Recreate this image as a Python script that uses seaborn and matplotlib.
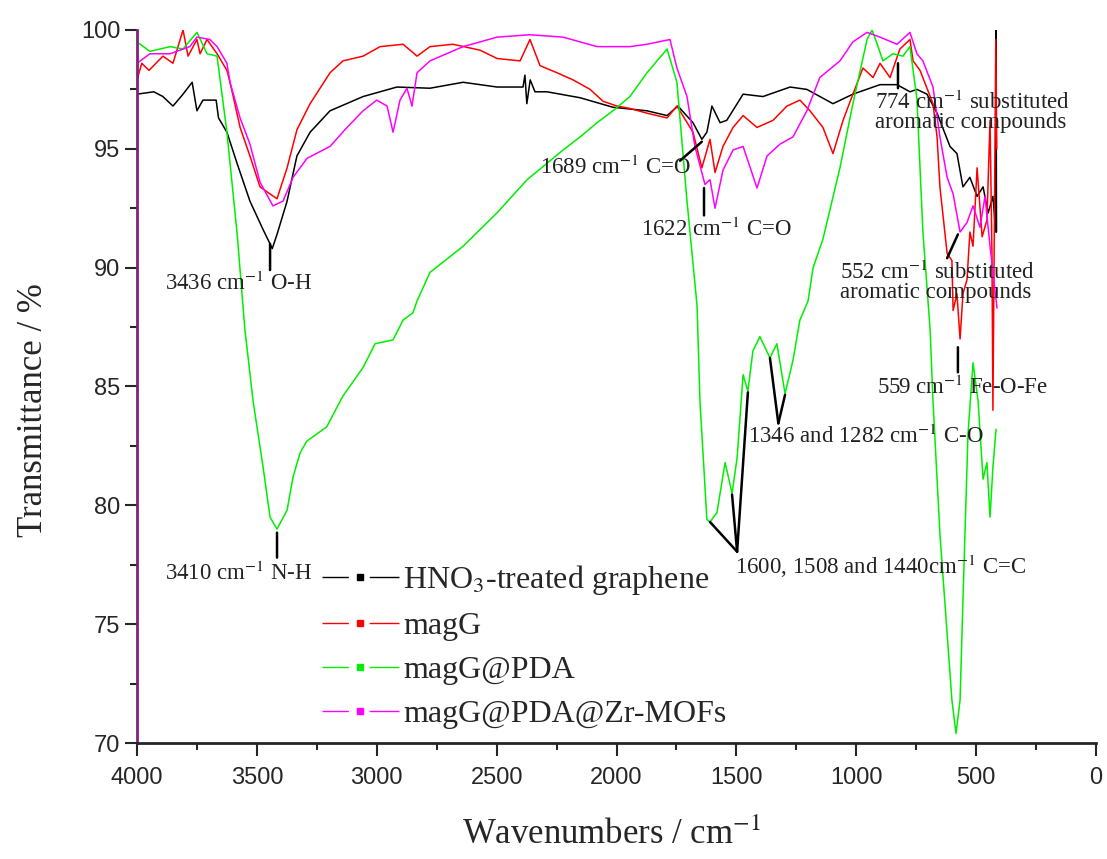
import numpy as np
import pandas as pd
import matplotlib
matplotlib.use("Agg")
import matplotlib.pyplot as plt
from matplotlib.lines import Line2D
from matplotlib.ticker import MultipleLocator
import seaborn as sns

# FTIR spectra (wavenumber in cm-1, transmittance in %)
hno3_x = [4000, 3930, 3892, 3850, 3808, 3770, 3750, 3725, 3670, 3660, 3625, 3583, 3529, 3474,
          3445, 3436, 3416, 3374, 3333, 3278, 3195, 3057, 2916, 2778, 2640, 2498, 2390, 2382,
          2374, 2360, 2340, 2290, 2152, 2015, 1873, 1789, 1744, 1681, 1644, 1623, 1602, 1568,
          1540, 1472, 1389, 1276, 1206, 1097, 1014, 901, 830, 776, 747, 705, 663, 609, 580,
          555, 526, 496, 471, 450, 430, 418, 417, 415]
hno3_y = [97.3, 97.4, 97.2, 96.8, 97.3, 97.8, 96.6, 97.05, 97.05, 96.3, 95.7, 94.4, 92.8, 91.6,
          91.0, 90.8, 91.4, 92.8, 94.7, 95.7, 96.6, 97.2, 97.6, 97.55, 97.8, 97.6, 97.6, 98.1,
          96.9, 97.9, 97.4, 97.4, 97.15, 96.75, 96.6, 96.4, 96.8, 96.1, 95.4, 95.7, 96.8, 96.1,
          96.2, 97.3, 97.2, 97.6, 97.5, 96.9, 97.3, 97.7, 97.7, 97.4, 97.5, 97.3, 96.5, 95.1, 94.8,
          93.4, 93.8, 93.0, 93.4, 92.3, 93.0, 91.5, 100.0, 91.5]

magg_x = [4000, 3980, 3950, 3892, 3850, 3808, 3787, 3750, 3737, 3708, 3666, 3625, 3612, 3570,
          3529, 3487, 3445, 3416, 3374, 3333, 3278, 3195, 3141, 3057, 2986, 2890, 2832, 2778,
          2682, 2569, 2498, 2402, 2361, 2319, 2248, 2181, 2110, 2056, 1998, 1944, 1873, 1789,
          1748, 1681, 1644, 1610, 1589, 1556, 1514, 1472, 1414, 1347, 1289, 1235, 1193, 1139,
          1097, 1055, 1014, 972, 930, 901, 859, 818, 776, 763, 734, 680, 663, 651, 621, 601,
          596, 580, 567, 555, 538, 526, 513, 496, 475, 455, 442, 434, 430, 418, 414]
magg_y = [97.9, 98.6, 98.3, 98.9, 98.6, 100.0, 98.9, 99.6, 99.0, 99.6, 99.0, 98.3, 97.8, 95.9,
          94.7, 93.4, 93.1, 92.9, 94.2, 95.8, 96.9, 98.2, 98.7, 98.9, 99.3, 99.4, 98.9, 99.3,
          99.4, 99.15, 98.8, 98.7, 99.6, 98.5, 98.2, 97.9, 97.5, 97.0, 96.8, 96.7, 96.5, 96.3,
          96.8, 95.7, 94.2, 95.4, 94.0, 95.1, 95.9, 96.4, 95.9, 96.2, 96.8, 97.05, 96.6, 95.9,
          94.8, 96.2, 97.3, 98.4, 98.0, 98.6, 98.0, 99.2, 99.6, 98.7, 98.3, 96.9, 95.5, 93.4,
          90.6, 90.3, 88.2, 88.9, 87.0, 88.9, 89.5, 91.5, 90.9, 94.2, 91.3, 92.0, 96.2, 90.6,
          84.0, 99.6, 95.0]

pda_x = [4000, 3946, 3862, 3808, 3750, 3708, 3666, 3625, 3583, 3550, 3516, 3474, 3445, 3416,
         3374, 3349, 3320, 3292, 3209, 3141, 3057, 3007, 2932, 2890, 2849, 2832, 2778, 2640,
         2499, 2373, 2223, 2152, 2081, 2015, 1944, 1873, 1789, 1748, 1706, 1664, 1652, 1623,
         1610, 1581, 1547, 1518, 1497, 1472, 1452, 1431, 1402, 1360, 1331, 1297, 1264, 1235,
         1201, 1180, 1139, 1068, 1014, 955, 934, 909, 889, 847, 805, 776, 747, 722, 692, 680,
         651, 621, 601, 584, 567, 555, 534, 513, 492, 471, 455, 442, 430, 417]
pda_y = [99.5, 99.1, 99.3, 99.2, 99.9, 99.0, 98.9, 95.7, 91.5, 87.4, 84.4, 81.6, 79.5, 79.0,
         79.8, 81.2, 82.2, 82.7, 83.3, 84.6, 85.8, 86.8, 86.96, 87.8, 88.1, 88.6, 89.8, 90.9,
         92.3, 93.7, 94.95, 95.5, 96.1, 96.6, 97.2, 98.2, 99.2, 97.8, 92.8, 88.4, 84.4, 79.4,
         79.3, 79.7, 81.8, 80.5, 82.0, 85.5, 84.8, 86.5, 87.1, 86.2, 86.8, 84.7, 86.1, 87.8,
         88.6, 90.0, 91.2, 94.2, 96.9, 99.6, 100.0, 99.3, 98.7, 99.0, 98.9, 99.3, 97.1, 91.5,
         87.4, 84.4, 78.8, 74.6, 71.8, 70.4, 71.8, 76.0, 83.0, 86.0, 84.4, 81.1, 81.8, 79.5,
         81.6, 83.2]

mof_x = [4000, 3946, 3862, 3780, 3750, 3696, 3666, 3625, 3612, 3570, 3529, 3487, 3433, 3391,
         3349, 3291, 3195, 3124, 3057, 3000, 2957, 2932, 2903, 2874, 2853, 2832, 2778, 2640,
         2498, 2361, 2223, 2152, 2081, 2015, 1944, 1873, 1777, 1748, 1706, 1673, 1631, 1610,
         1589, 1556, 1514, 1472, 1414, 1372, 1318, 1264, 1206, 1152, 1068, 1014, 955, 901, 830,
         776, 747, 722, 680, 651, 621, 596, 567, 538, 513, 484, 463, 442, 413]
mof_y = [98.6, 99.0, 99.0, 99.3, 99.7, 99.6, 99.3, 98.6, 97.8, 96.3, 95.2, 93.6, 92.6, 92.8,
         93.8, 94.6, 95.1, 95.9, 96.6, 97.05, 96.8, 95.7, 97.05, 97.55, 96.8, 98.2, 98.7, 99.3,
         99.7, 99.8, 99.7, 99.5, 99.3, 99.3, 99.3, 99.4, 99.6, 98.4, 97.2, 95.1, 93.5, 93.7,
         92.5, 94.1, 94.95, 95.1, 93.35, 94.7, 95.2, 95.5, 96.6, 98.0, 98.7, 99.5, 99.9, 99.7,
         99.4, 99.9, 99.0, 98.7, 97.6, 95.5, 93.8, 93.1, 91.5, 91.9, 92.6, 91.7, 93.0, 90.9, 88.3]

samples = ["HNO$_3$-treated graphene", "magG", "magG@PDA", "magG@PDA@Zr-MOFs"]
colors = ["#000000", "#ff0000", "#00ee00", "#ff00ff"]

frames = []
for name, xs, ys in zip(samples, [hno3_x, magg_x, pda_x, mof_x], [hno3_y, magg_y, pda_y, mof_y]):
    frames.append(pd.DataFrame({"wavenumber": xs, "transmittance": ys, "sample": name}))
df = pd.concat(frames, ignore_index=True)

sns.set_style("ticks")
plt.rcParams["font.family"] = ["Liberation Serif", "DejaVu Serif"]
plt.rcParams["mathtext.fontset"] = "stix"

fig = plt.figure(figsize=(11.07, 8.59), dpi=100)
ax = fig.add_axes([0.12376, 0.13504, 0.86631, 0.83004])

sns.lineplot(data=df, x="wavenumber", y="transmittance", hue="sample",
             palette=dict(zip(samples, colors)), sort=False, estimator=None,
             linewidth=1.1, legend=False, ax=ax)

ax.set_xlim(4000, 0)
ax.set_ylim(70, 100)
ax.xaxis.set_major_locator(MultipleLocator(500))
ax.xaxis.set_minor_locator(MultipleLocator(250))
ax.yaxis.set_major_locator(MultipleLocator(5))
ax.yaxis.set_minor_locator(MultipleLocator(2.5))
ax.tick_params(which="major", direction="out", length=9, width=1.5)
ax.tick_params(which="minor", direction="out", length=5, width=1.5)
ax.tick_params(axis="x", which="major", pad=8)
ax.tick_params(axis="y", which="major", pad=3)
for lab in ax.get_xticklabels() + ax.get_yticklabels():
    lab.set_fontfamily("Liberation Sans")
    lab.set_fontsize(17)

sns.despine(ax=ax)
ax.spines["bottom"].set_linewidth(2)
ax.spines["left"].set_linewidth(2)
ax.spines["left"].set_color("#80207f")

ax.set_xlabel("Wavenumbers / cm$^{-1}$", fontsize=25)
ax.set_ylabel("Transmittance / %", fontsize=25)
ax.xaxis.set_label_coords(0.495, -0.106)
ax.yaxis.set_label_coords(-0.091, 0.467)

# peak annotations
txt = dict(fontsize=16.5, color="#222222", va="center", ha="left")
lk = dict(arrowstyle="-", color="black", lw=1.8, shrinkA=0, shrinkB=0)

ax.annotate("", xy=(3445, 91.0), xytext=(3445, 89.9), arrowprops=lk)
ax.text(3883, 89.35, "3436 cm$^{-1}$ O-H", **txt)

ax.annotate("", xy=(3416, 78.85), xytext=(3416, 77.8), arrowprops=lk)
ax.text(3883, 77.15, "3410 cm$^{-1}$ N-H", **txt)

ax.annotate("", xy=(1644, 95.3), xytext=(1735, 94.5), arrowprops=lk)
ax.text(2319, 94.2, "1689 cm$^{-1}$ C=O", **txt)

ax.annotate("", xy=(1635, 93.35), xytext=(1635, 92.2), arrowprops=lk)
ax.text(1898, 91.6, "1622 cm$^{-1}$ C=O", **txt)

ax.annotate("", xy=(826, 98.6), xytext=(826, 97.55), arrowprops=lk)
ax.text(922, 96.55, "774 cm$^{-1}$ substituted\naromatic compounds", linespacing=0.85, **txt)

ax.annotate("", xy=(576, 91.4), xytext=(621, 90.4), arrowprops=lk)
ax.text(1068, 89.4, "552 cm$^{-1}$ substituted\naromatic compounds", linespacing=0.85, **txt)

ax.annotate("", xy=(576, 86.65), xytext=(576, 85.6), arrowprops=lk)
ax.text(913, 84.95, "559 cm$^{-1}$ Fe-O-Fe", **txt)

for wx, ty in [(1360, 86.2), (1297, 84.65)]:
    ax.annotate("", xy=(wx, ty), xytext=(1325, 83.45), arrowprops=lk)
ax.text(1451, 82.9, "1346 and 1282 cm$^{-1}$ C-O", **txt)

for wx, ty in [(1610, 79.3), (1518, 80.45), (1452, 84.75)]:
    ax.annotate("", xy=(wx, ty), xytext=(1497, 78.05), arrowprops=lk)
ax.text(1506, 77.45, "1600, 1508 and 1440cm$^{-1}$ C=C", **txt)

# legend handles drawn Origin-style: line, gap, square, gap, line
handles = [Line2D([], [], color=c, lw=1.0, linestyle=(0, (19, 15, 30, 0)),
                  marker="s", markersize=4, markerfacecolor=c, markeredgecolor=c)
           for c in colors]
ax.legend(handles, samples, loc="upper left", bbox_to_anchor=(0.193, 0.252),
          frameon=False, fontsize=23, handlelength=2.4, handletextpad=0.14,
          labelspacing=0.46, borderpad=0, borderaxespad=0)

fig.savefig("out.png", dpi=100)
